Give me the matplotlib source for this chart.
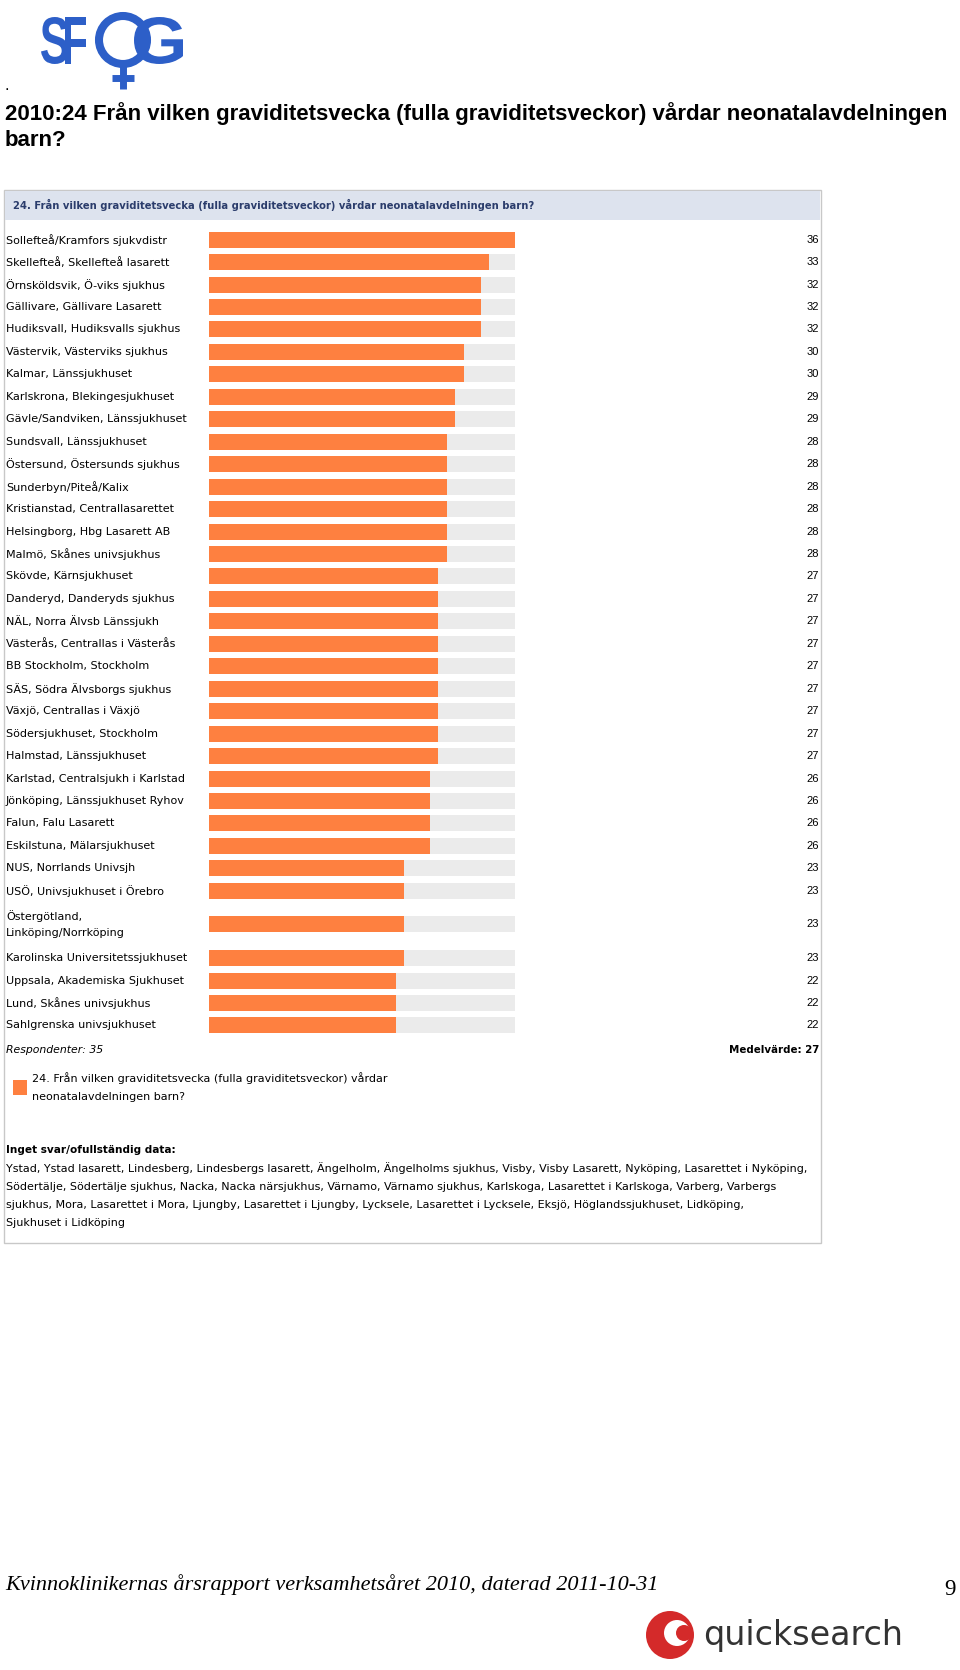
import matplotlib
matplotlib.use("Agg")
import matplotlib.pyplot as plt
from matplotlib.patches import Rectangle, Circle, PathPatch
from matplotlib.textpath import TextPath
from matplotlib.font_manager import FontProperties
from matplotlib.transforms import Affine2D

# data
labels = [
    "Sollefteå/Kramfors sjukvdistr", "Skellefteå, Skellefteå lasarett",
    "Örnsköldsvik, Ö-viks sjukhus", "Gällivare, Gällivare Lasarett",
    "Hudiksvall, Hudiksvalls sjukhus", "Västervik, Västerviks sjukhus",
    "Kalmar, Länssjukhuset", "Karlskrona, Blekingesjukhuset",
    "Gävle/Sandviken, Länssjukhuset", "Sundsvall, Länssjukhuset",
    "Östersund, Östersunds sjukhus", "Sunderbyn/Piteå/Kalix",
    "Kristianstad, Centrallasarettet", "Helsingborg, Hbg Lasarett AB",
    "Malmö, Skånes univsjukhus", "Skövde, Kärnsjukhuset",
    "Danderyd, Danderyds sjukhus", "NÄL, Norra Älvsb Länssjukh",
    "Västerås, Centrallas i Västerås", "BB Stockholm, Stockholm",
    "SÄS, Södra Älvsborgs sjukhus", "Växjö, Centrallas i Växjö",
    "Södersjukhuset, Stockholm", "Halmstad, Länssjukhuset",
    "Karlstad, Centralsjukh i Karlstad", "Jönköping, Länssjukhuset Ryhov",
    "Falun, Falu Lasarett", "Eskilstuna, Mälarsjukhuset",
    "NUS, Norrlands Univsjh", "USÖ, Univsjukhuset i Örebro",
    "Östergötland,\nLinköping/Norrköping", "Karolinska Universitetssjukhuset",
    "Uppsala, Akademiska Sjukhuset", "Lund, Skånes univsjukhus",
    "Sahlgrenska univsjukhuset",
]
values = [36, 33, 32, 32, 32, 30, 30, 29, 29, 28, 28, 28, 28, 28, 28,
          27, 27, 27, 27, 27, 27, 27, 27, 27, 26, 26, 26, 26,
          23, 23, 23, 23, 22, 22, 22]
respondents = 35
mean_value = 27

question = "24. Från vilken graviditetsvecka (fulla graviditetsveckor) vårdar neonatalavdelningen barn?"
legend_lines = ["24. Från vilken graviditetsvecka (fulla graviditetsveckor) vårdar",
                "neonatalavdelningen barn?"]
no_answer_lines = [
    "Ystad, Ystad lasarett, Lindesberg, Lindesbergs lasarett, Ängelholm, Ängelholms sjukhus, Visby, Visby Lasarett, Nyköping, Lasarettet i Nyköping,",
    "Södertälje, Södertälje sjukhus, Nacka, Nacka närsjukhus, Värnamo, Värnamo sjukhus, Karlskoga, Lasarettet i Karlskoga, Varberg, Varbergs",
    "sjukhus, Mora, Lasarettet i Mora, Ljungby, Lasarettet i Ljungby, Lycksele, Lasarettet i Lycksele, Eksjö, Höglandssjukhuset, Lidköping,",
    "Sjukhuset i Lidköping",
]
title_lines = ["2010:24 Från vilken graviditetsvecka (fulla graviditetsveckor) vårdar neonatalavdelningen",
               "barn?"]
footer = "Kvinnoklinikernas årsrapport verksamhetsåret 2010, daterad 2011-10-31"

orange = "#fe8040"
grey = "#ebebeb"
W, H = 960, 1670

fig = plt.figure(figsize=(W / 100, H / 100), dpi=100)
pax = fig.add_axes([0, 0, 1, 1])
pax.set_xlim(0, W)
pax.set_ylim(H, 0)
pax.axis('off')


def path_text(s, x0, y0, x1, y1, color, weight="normal"):
    # text squeezed into a pixel box (used for the logos)
    tp = TextPath((0, 0), s, size=100, prop=FontProperties(family="Liberation Sans", weight=weight))
    ext = tp.get_extents()
    tr = (Affine2D().translate(-ext.x0, -ext.y0)
          .scale((x1 - x0) / ext.width, -(y1 - y0) / ext.height)
          .translate(x0, y1))
    pax.add_patch(PathPatch(tr.transform_path(tp), color=color, lw=0))


# SFOG logo
blue = "#2d5fc8"
path_text("S", 41, 17, 68, 64, blue, "bold")
path_text("F", 65, 17, 86, 64, blue, "bold")
pax.add_patch(Circle((123, 40), 24, fill=False, ec=blue, lw=5.8))
path_text("G", 134, 17, 183, 64, blue, "bold")
pax.plot([123, 123], [64, 89], color=blue, lw=5, solid_capstyle="butt")
pax.plot([112, 134], [78, 78], color=blue, lw=5, solid_capstyle="butt")

# page title
pax.text(5, 90, ".", fontsize=12, family="Liberation Sans", va="baseline")
for i, line in enumerate(title_lines):
    pax.text(5, 120 + 26 * i, line, fontsize=16, family="Liberation Sans", weight="bold",
             va="baseline")

# chart panel
pax.add_patch(Rectangle((4, 190), 817, 1053, fill=False, ec="#c8c8c8", lw=1))
pax.add_patch(Rectangle((5, 191), 815, 29, color="#dde3ee", lw=0))
pax.text(13, 205, question, fontsize=7.2, family="DejaVu Sans", weight="bold",
         color="#2b3d6c", va="center")

# row layout: two-line labels get a taller row
pitch = 22.45
row_h = [pitch * (lab.count("\n") + 1) for lab in labels]
centers = []
y = 239.7 - row_h[0] / 2
for h in row_h:
    centers.append(y + h / 2)
    y += h

top, bottom = 225, 1040
bax = fig.add_axes([209 / W, 1 - bottom / H, (515 - 209) / W, (bottom - top) / H])
scale_max = max(values)
bax.barh(centers, [scale_max] * len(values), height=16, color=grey, lw=0)
bax.barh(centers, values, height=16, color=orange, lw=0)
bax.set_xlim(0, scale_max)
bax.set_ylim(bottom, top)
bax.axis('off')

for lab, v, c in zip(labels, values, centers):
    pax.text(6, c, lab, fontsize=8, family="DejaVu Sans", va="center", linespacing=1.75)
    pax.text(819, c, str(v), fontsize=8, family="Liberation Sans", va="center", ha="right")

pax.text(6, 1050, f"Respondenter: {respondents}", fontsize=7.8, family="DejaVu Sans",
         style="italic", va="center")
pax.text(819, 1050, f"Medelvärde: {mean_value}", fontsize=7.4, family="DejaVu Sans",
         weight="bold", va="center", ha="right")

# legend
pax.add_patch(Rectangle((13, 1080), 14, 15, color=orange, lw=0))
for i, line in enumerate(legend_lines):
    pax.text(32, 1078 + 19 * i, line, fontsize=8, family="DejaVu Sans", va="center")

pax.text(6, 1150, "Inget svar/ofullständig data:", fontsize=7.6, family="DejaVu Sans",
         weight="bold", va="center")
for i, line in enumerate(no_answer_lines):
    pax.text(6, 1168 + 18.5 * i, line, fontsize=8, family="DejaVu Sans", va="center")

# footer
pax.text(5, 1590, footer, fontsize=16, family="Liberation Serif", style="italic", va="baseline")
pax.text(956, 1595, "9", fontsize=16.5, family="Liberation Serif", va="baseline", ha="right")

# quicksearch logo
pax.add_patch(Circle((670, 1635), 24, color="#d42a2a", lw=0))
pax.add_patch(Circle((677, 1633), 13, color="white", lw=0))
pax.add_patch(Circle((684, 1633), 8, color="#d42a2a", lw=0))
pax.text(703, 1636, "quicksearch", fontsize=24, family="DejaVu Sans", color="#333333",
         va="center")

fig.savefig("out.png", dpi=100)
